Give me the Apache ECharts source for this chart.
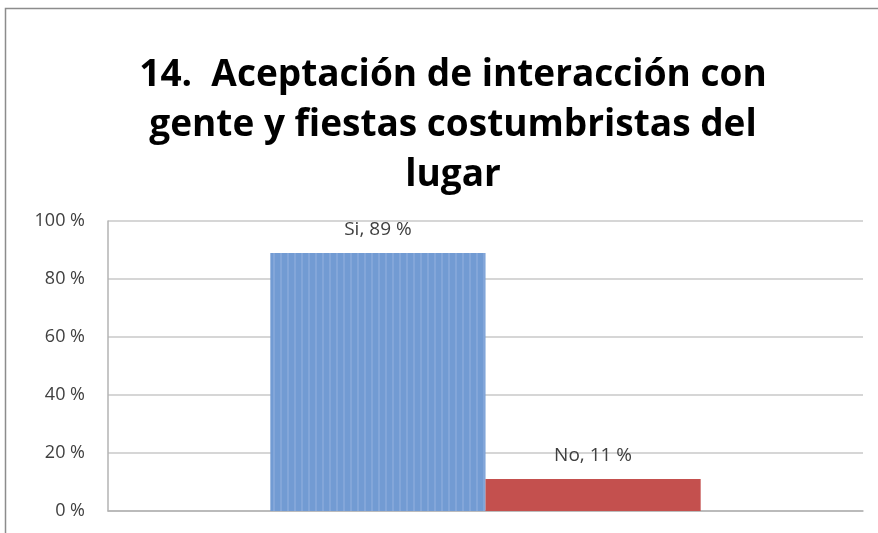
<!DOCTYPE html>
<html><head><meta charset="utf-8">
<script src="https://cdn.jsdelivr.net/npm/echarts@6/dist/echarts.min.js"></script>
<style>html,body{margin:0;padding:0;background:#fff}#c{width:878px;height:533px}</style>
</head><body><div id="c"></div>
<script>
const categories = [''];
const seriesNames = ['Si', 'No'];
const siValues = [89];
const noValues = [11];
const yTicks = [0, 20, 40, 60, 80, 100];

const chart = echarts.init(document.getElementById('c'));
const labelStyle = {
  show: true, position: 'top', distance: 14,
  formatter: p => p.seriesName + ', ' + p.value + ' %',
  color: '#404040', fontSize: 19, fontFamily: 'Open Sans'
};
chart.setOption({
  animation: false,
  graphic: [{
    type: 'rect', shape: {x: 5.5, y: 8.5, width: 900, height: 600},
    style: {fill: 'none', stroke: '#8c8c8c', lineWidth: 1.5}, silent: true, z: -10
  }],
  title: {
    text: '14.  Aceptación de interacción con\ngente y fiestas costumbristas del\nlugar',
    left: 448, textAlign: 'center', top: 45,
    textStyle: {fontSize: 37, fontWeight: 'bold', fontFamily: 'Open Sans', color: '#000', lineHeight: 50}
  },
  grid: {left: 108, right: 15, top: 221, bottom: 22},
  xAxis: {
    type: 'category', data: categories,
    axisLine: {lineStyle: {color: '#b3b3b3', width: 1.5}},
    axisTick: {show: false}, axisLabel: {show: false}
  },
  yAxis: {
    type: 'value', min: yTicks[0], max: yTicks[yTicks.length - 1], interval: 20,
    axisLine: {show: true, lineStyle: {color: '#b3b3b3', width: 1.5}},
    axisTick: {show: false},
    splitLine: {lineStyle: {color: '#c8c8c8', width: 1.5}},
    axisLabel: {formatter: '{value} %', color: '#404040', fontSize: 18, fontFamily: 'Open Sans', margin: 23}
  },
  series: [
    {name: seriesNames[0], type: 'bar', data: siValues, barGap: '0%', barCategoryGap: '43%',
     itemStyle: {color: '#729bd3', decal: {symbol: 'rect', dashArrayX: [[2, 5]], dashArrayY: [1, 0], color: 'rgba(150,180,225,0.45)', symbolSize: 1}},
     label: labelStyle},
    {name: seriesNames[1], type: 'bar', data: noValues,
     itemStyle: {color: '#c4504e'}, label: labelStyle}
  ]
});
</script></body></html>
